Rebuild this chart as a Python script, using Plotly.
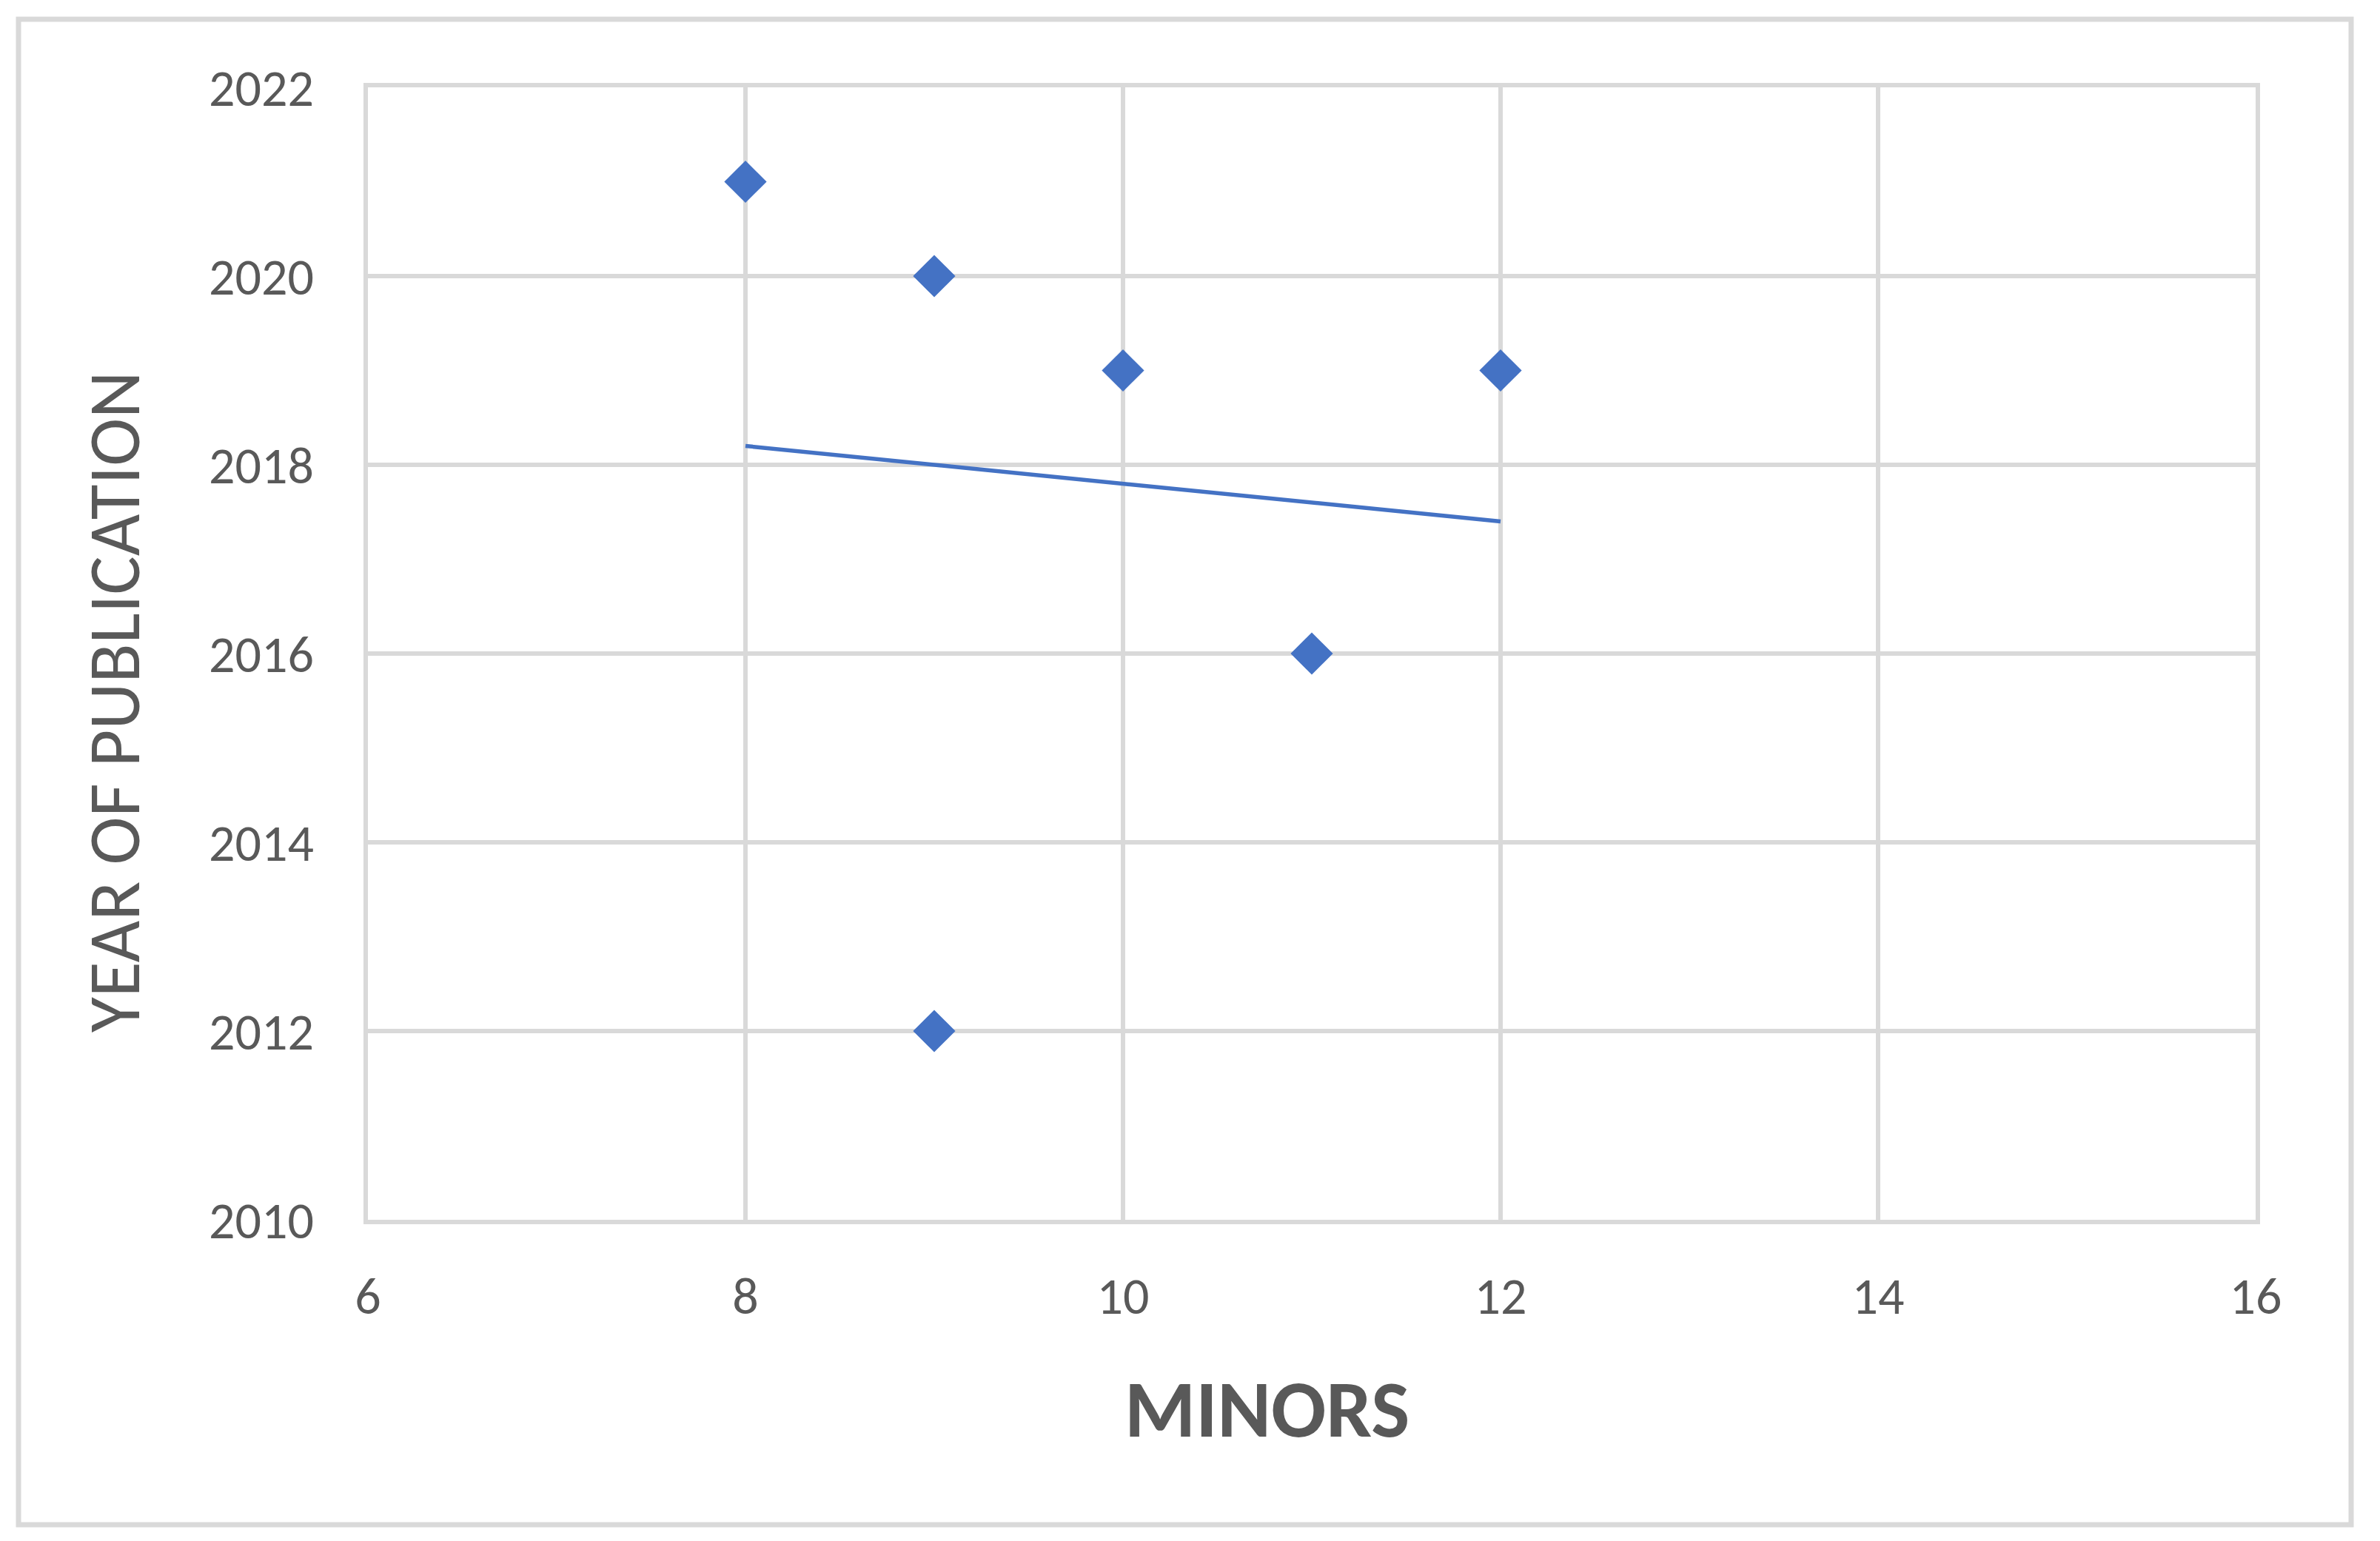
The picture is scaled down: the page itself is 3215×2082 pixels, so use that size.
import numpy as np
import plotly.graph_objects as go

# Data
minors = [8, 9, 10, 12, 11, 9]
years = [2021, 2020, 2019, 2019, 2016, 2012]

x_ticks = [6, 8, 10, 12, 14, 16]
y_ticks = [2010, 2012, 2014, 2016, 2018, 2020, 2022]

x_title = "MINORS"
y_title = "YEAR OF PUBLICATION"

BLUE = "#4472C4"
GRID = "#D9D9D9"
TXT = "#595959"
FONT = "Calibri, Carlito, Lato, sans-serif"

W, H = 3215, 2082
L, R, T, B = 497, 3047, 118, 1648  # plot area in px
pw, ph = R - L, B - T

def px_x(p):
    return (p - L) / pw

def px_y(p):
    return (B - p) / ph

# Linear trend line (least squares fit of the data)
slope, intercept = np.polyfit(minors, years, 1)
tx = [min(minors), max(minors)]
ty = [slope * v + intercept for v in tx]

fig = go.Figure()
fig.add_trace(go.Scatter(
    x=minors, y=years, mode="markers",
    marker=dict(symbol="diamond", size=44, color=BLUE, line=dict(width=0)),
    showlegend=False, hoverinfo="x+y",
))
fig.add_trace(go.Scatter(
    x=tx, y=ty, mode="lines",
    line=dict(color=BLUE, width=5.5),
    showlegend=False, hoverinfo="skip",
))

axis_common = dict(
    showgrid=True, gridcolor=GRID, gridwidth=6,
    showline=True, linecolor=GRID, linewidth=6, mirror=True,
    zeroline=False, ticks="",
    tickfont=dict(family=FONT, size=70, color=TXT),
)

fig.update_xaxes(range=[6, 16], tickvals=x_ticks, ticktext=[str(v) for v in x_ticks],
                 ticklabelstandoff=37, **axis_common)
fig.update_yaxes(range=[2010, 2022], tickvals=y_ticks, ticktext=[str(v) for v in y_ticks],
                 ticklabelstandoff=53, **axis_common)

fig.add_annotation(
    text=y_title, textangle=-90, showarrow=False,
    xref="paper", yref="paper", x=px_x(154), y=px_y(949),
    xanchor="center", yanchor="middle",
    font=dict(family=FONT, size=98, color=TXT),
)
fig.add_annotation(
    text="<b>" + x_title + "</b>", showarrow=False,
    xref="paper", yref="paper", x=px_x(1711), y=px_y(1903),
    xanchor="center", yanchor="middle",
    font=dict(family=FONT, size=110, color=TXT),
)

# Chart area border
fig.add_shape(
    type="rect", xref="paper", yref="paper",
    x0=px_x(25), x1=px_x(3176), y0=px_y(2060), y1=px_y(26),
    line=dict(color=GRID, width=7), fillcolor="rgba(0,0,0,0)", layer="below",
)

fig.update_layout(
    width=W, height=H,
    margin=dict(l=L, r=W - R, t=T, b=H - B, pad=0),
    paper_bgcolor="white", plot_bgcolor="white",
    showlegend=False,
)

fig.write_html(
    "out.html",
    config={"displayModeBar": False},
    post_script="document.body.style.margin='0';document.body.style.overflow='hidden';",
)
